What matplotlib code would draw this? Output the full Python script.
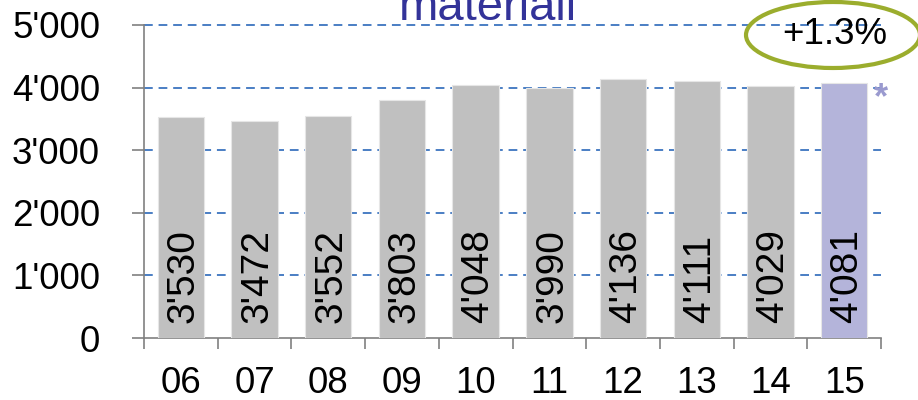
import numpy as np
import matplotlib.pyplot as plt
from matplotlib.patches import Ellipse
from matplotlib.ticker import FuncFormatter

years = ["06", "07", "08", "09", "10", "11", "12", "13", "14", "15"]
values = [3530, 3472, 3552, 3803, 4048, 3990, 4136, 4111, 4029, 4081]
y_ticks = [0, 1000, 2000, 3000, 4000, 5000]
title_text = "materiali"
change_text = "+1.3%"


def swiss(v):
    return f"{int(v):,}".replace(",", "'")


def main():
    plt.rcParams["font.family"] = ["Liberation Sans", "DejaVu Sans"]

    fig = plt.figure(figsize=(9.18, 4.0), dpi=100)
    ax = fig.add_axes([144 / 918, 62 / 400, 737 / 918, 313 / 400])

    x = np.arange(len(values))
    colors = ["#C0C0C0"] * (len(values) - 1) + ["#B4B4DA"]
    ax.bar(x, values, width=0.63, color=colors, edgecolor="#E6E6E6",
           linewidth=0.8, zorder=3)

    for xi, v in zip(x, values):
        ax.text(xi + 0.04, 245, swiss(v), rotation=90, ha="center",
                va="bottom", fontsize=28, color="black", zorder=4)

    ax.set_xlim(-0.5, len(values) - 0.5)
    ax.set_ylim(0, 5000)
    ax.set_yticks(y_ticks)
    ax.yaxis.set_major_formatter(FuncFormatter(lambda v, p: swiss(v)))
    ax.set_xticks(x)
    ax.set_xticklabels(years)
    ax.set_xticks(np.arange(-0.5, len(values)), minor=True)

    ax.tick_params(axis="y", length=8.6, width=1.2, color="#808080",
                   pad=23, labelsize=26.5)
    ax.tick_params(axis="x", which="major", length=0, pad=20, labelsize=26.5)
    ax.tick_params(axis="x", which="minor", length=8, width=1.2,
                   color="#808080")

    for s in ["top", "right"]:
        ax.spines[s].set_visible(False)
    for s in ["left", "bottom"]:
        ax.spines[s].set_color("#808080")
        ax.spines[s].set_linewidth(1.2)
    ax.spines["left"].set_zorder(5)

    for t in y_ticks[1:]:
        ax.axhline(t, color="#4A7EC4", linestyle=(0, (4.5, 3)),
                   linewidth=1.4, zorder=2, clip_on=False)

    ax.text(len(values) - 0.5, 3830, "*", ha="center", va="center",
            fontsize=26, fontweight="bold", color="#9A9ACF")

    fig.text(488 / 918, 1 - 20 / 400, title_text, ha="center",
             va="baseline", fontsize=34, color="#333399")

    ell = Ellipse((833 / 918, 1 - 35 / 400), 174 / 918, 66 / 400,
                  transform=fig.transFigure, fill=False,
                  edgecolor="#9BAD2D", linewidth=3)
    fig.add_artist(ell)
    fig.text(835 / 918, 1 - 35 / 400, change_text, ha="center", va="center",
             fontsize=26.5, color="black")

    fig.savefig("out.png", dpi=100)
    plt.close(fig)


if __name__ == "__main__":
    main()
